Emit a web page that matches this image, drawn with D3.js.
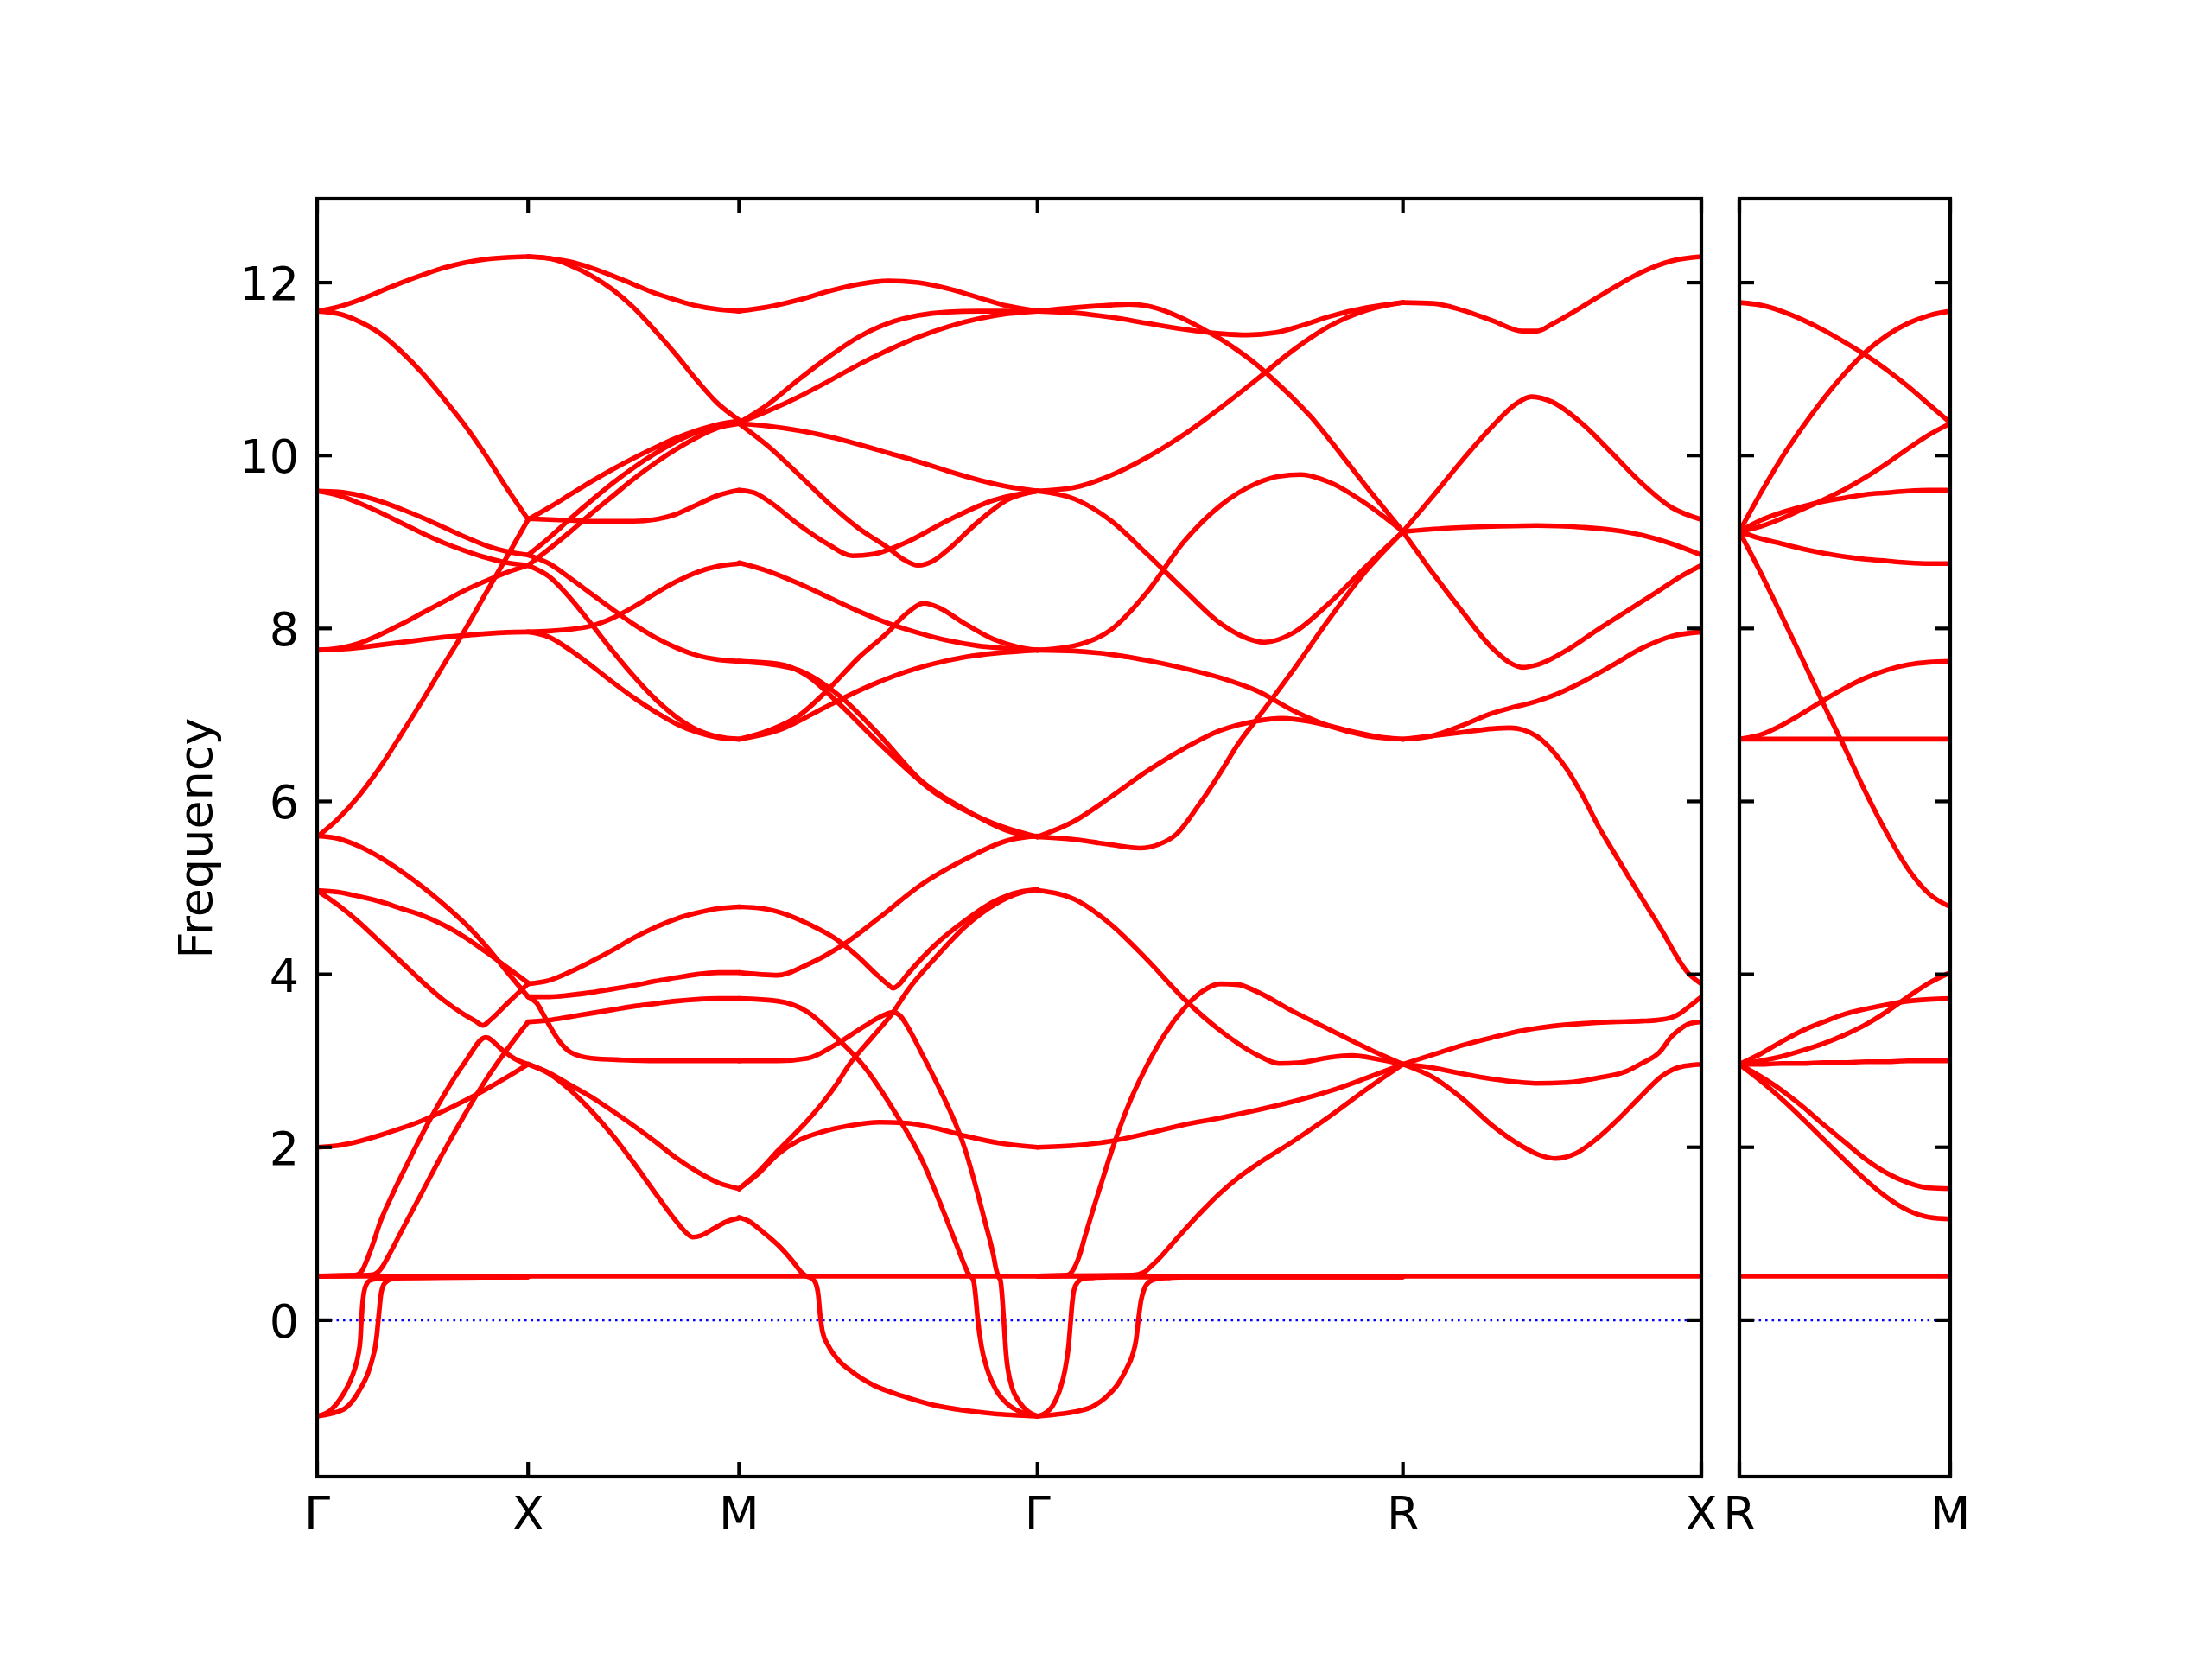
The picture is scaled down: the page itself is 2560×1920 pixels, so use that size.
<!DOCTYPE html>
<html><head><meta charset="utf-8">
<script src="https://cdn.jsdelivr.net/npm/d3@7"></script>
<style>html,body{margin:0;padding:0;background:#fff}</style>
</head><body>
<svg id="chart" width="2560" height="1920"></svg>
<script>
// ---------------- data ----------------
const kLabels1 = ["Γ","X","M","Γ","R","X"];
const segLen1 = [0.5, 0.5, 0.7071, 0.8660, 0.7071];
const kLabels2 = ["R","M"];
const segLen2 = [0.5];
const yTicks = [0, 2, 4, 6, 8, 10, 12];
const yDomain = [-1.81, 12.97];
const flatBand = 0.51;

// band values: plain arrays = evenly spaced along segment; {t,f} = explicit fractions
const bandsGX = [
  [11.67,11.72,11.80,11.90,12.00,12.09,12.17,12.23,12.27,12.29,12.30],
  [11.67,11.64,11.55,11.41,11.20,10.95,10.66,10.35,10.00,9.62,9.26],
  [5.59,5.80,6.07,6.40,6.78,7.17,7.58,7.98,8.41,8.83,9.26],
  [9.59,9.58,9.54,9.47,9.38,9.28,9.17,9.06,8.96,8.89,8.85],
  [9.59,9.54,9.45,9.34,9.22,9.10,8.99,8.90,8.82,8.76,8.73],
  [7.75,7.77,7.83,7.93,8.05,8.18,8.31,8.44,8.55,8.65,8.73],
  [7.75,7.76,7.78,7.81,7.84,7.87,7.90,7.92,7.94,7.955,7.96],
  [5.60,5.57,5.48,5.35,5.19,5.01,4.81,4.59,4.33,4.03,3.74],
  [4.97,4.95,4.90,4.84,4.76,4.68,4.57,4.43,4.26,4.08,3.90],
  {t:[0,.1,.2,.3,.4,.5,.6,.7,.75,.786,.82,.9,1], f:[4.97,4.80,4.60,4.37,4.14,3.91,3.70,3.53,3.46,3.41,3.47,3.66,3.89]},
  [2.00,2.02,2.07,2.14,2.22,2.31,2.42,2.54,2.67,2.81,2.96],
  {t:[0,.18,.2,.215,.23,.26,.3,.36,.43,.5,.6,.7,.8,.88,.94,1], f:[.51,.52,.54,.58,.66,.85,1.14,1.47,1.82,2.16,2.60,2.98,3.27,3.12,3.02,2.96]},
  {t:[0,.24,.27,.29,.31,.34,.4,.5,.6,.7,.8,.9,1], f:[.51,.52,.53,.56,.62,.75,1.03,1.49,1.95,2.38,2.78,3.13,3.45]},
  {t:[0,.06,.11,.15,.18,.195,.205,.21,.215,.222,.235,.25,.28,.35,1], f:[-1.11,-1.05,-.91,-.74,-.55,-.40,-.22,0,.18,.32,.42,.46,.48,.49,.50]},
  {t:[0,.126,.208,.24,.263,.276,.284,.29,.296,.301,.31,.325,.36,.4,1], f:[-1.11,-1.03,-.78,-.62,-.44,-.30,-.15,0,.15,.27,.38,.44,.48,.49,.50]}
];

const bandsXM = [
  [12.30,12.28,12.20,12.08,11.92,11.71,11.45,11.17,10.87,10.60,10.41],
  [12.30,12.28,12.24,12.17,12.08,11.98,11.88,11.80,11.73,11.69,11.67],
  [9.26,9.40,9.55,9.70,9.84,9.97,10.09,10.20,10.29,10.36,10.40],
  [8.85,9.05,9.27,9.48,9.68,9.86,10.02,10.16,10.27,10.35,10.38],
  [8.73,8.92,9.12,9.33,9.53,9.73,9.91,10.07,10.21,10.32,10.37],
  [9.27,9.26,9.25,9.24,9.24,9.24,9.26,9.32,9.43,9.54,9.60],
  [7.96,7.97,7.99,8.03,8.12,8.25,8.40,8.54,8.65,8.72,8.75],
  [7.96,7.90,7.75,7.57,7.38,7.20,7.04,6.90,6.80,6.74,6.72],
  [8.85,8.75,8.58,8.40,8.22,8.05,7.90,7.78,7.69,7.64,7.62],
  [8.73,8.60,8.35,8.05,7.74,7.45,7.19,6.98,6.83,6.75,6.72],
  [3.89,3.93,4.03,4.15,4.28,4.42,4.54,4.64,4.71,4.76,4.78],
  [3.74,3.74,3.76,3.79,3.83,3.87,3.92,3.96,4.00,4.02,4.02],
  {t:[0,.04,.08,.12,.16,.2,.3,.45,.6,.8,1], f:[3.74,3.67,3.50,3.33,3.19,3.10,3.03,3.01,3.00,3.00,3.00]},
  [3.45,3.47,3.51,3.55,3.59,3.63,3.66,3.69,3.71,3.72,3.72],
  [2.96,2.86,2.72,2.58,2.42,2.25,2.07,1.88,1.72,1.59,1.52],
  {t:[0,.1,.2,.3,.4,.5,.6,.7,.75,.78,.82,.88,.94,1], f:[2.96,2.85,2.66,2.42,2.14,1.82,1.48,1.15,1.01,.96,.98,1.06,1.14,1.18]}
];

const bandsMG = [
  [11.67,11.72,11.80,11.90,11.98,12.02,12.00,11.93,11.83,11.73,11.67],
  [10.38,10.60,10.88,11.14,11.37,11.53,11.62,11.66,11.67,11.67,11.67],
  [10.38,10.52,10.68,10.86,11.05,11.22,11.37,11.49,11.58,11.64,11.67],
  [10.37,10.34,10.29,10.22,10.13,10.03,9.93,9.82,9.72,9.64,9.59],
  {t:[0,.1,.2,.3,.4,.5,.55,.6,.65,.7,.8,.9,1], f:[10.37,10.10,9.78,9.45,9.16,8.93,8.80,8.73,8.78,8.91,9.23,9.49,9.59]},
  {t:[0,.05,.1,.2,.3,.38,.45,.55,.7,.85,1], f:[9.60,9.57,9.47,9.20,8.97,8.84,8.86,8.98,9.25,9.48,9.59]},
  [8.76,8.66,8.52,8.36,8.20,8.06,7.95,7.86,7.80,7.77,7.75],
  {t:[0,.1,.2,.3,.4,.5,.56,.62,.67,.75,.85,.93,1], f:[6.72,6.82,6.99,7.30,7.66,7.96,8.17,8.29,8.24,8.07,7.88,7.79,7.75]},
  {t:[0,.18,.34,.47,.61,.76,.9,1], f:[7.62,7.54,7.21,6.77,6.24,5.90,5.66,5.59]},
  {t:[0,.13,.23,.32,.47,.66,.85,1], f:[7.62,7.59,7.45,7.18,6.67,6.09,5.75,5.59]},
  {t:[0,.13,.30,.42,.56,.76,1], f:[6.72,6.82,7.11,7.31,7.50,7.67,7.75]},
  {t:[0,.08,.16,.24,.32,.4,.46,.5,.516,.535,.564,.66,.757,.853,.95,1], f:[4.78,4.76,4.69,4.57,4.42,4.20,4.00,3.88,3.84,3.88,4.00,4.35,4.62,4.84,4.96,4.98]},
  {t:[0,.13,.227,.352,.468,.612,.757,.902,1], f:[4.02,3.99,4.11,4.35,4.65,5.04,5.33,5.55,5.60]},
  {t:[0,.13,.227,.323,.42,.516,.612,.68,.73,.755,.768,.778,.786,.792,.80,.812,.83,.86,.9,.95,1], f:[3.72,3.69,3.57,3.28,2.93,2.44,1.86,1.30,.86,.64,.54,.50,.45,.30,0,-.30,-.55,-.80,-.97,-1.07,-1.11]},
  {t:[0,.13,.23,.32,.42,.48,.516,.54,.564,.61,.66,.757,.824,.853,.862,.870,.876,.881,.887,.895,.91,.94,.97,1], f:[3.00,3.00,3.03,3.18,3.40,3.52,3.56,3.52,3.40,3.10,2.76,1.98,1.14,.74,.58,.50,.46,.30,0,-.40,-.72,-.95,-1.06,-1.11]},
  {t:[0,.063,.13,.227,.323,.37,.448,.516,.564,.66,.757,.853,.95,1], f:[1.52,1.71,1.96,2.30,2.71,2.96,3.28,3.56,3.81,4.20,4.55,4.80,4.95,4.98]},
  {t:[0,.06,.13,.2,.28,.37,.47,.56,.66,.76,.87,1], f:[1.52,1.68,1.92,2.08,2.18,2.25,2.29,2.28,2.22,2.13,2.05,2.0]},
  {t:[0,.03,.08,.13,.18,.21,.225,.24,.255,.265,.272,.28,.3,.33,.38,.45,.55,.65,.75,.85,1], f:[1.19,1.15,1.02,.87,.68,.55,.51,.49,.44,.30,.05,-.14,-.30,-.45,-.60,-.75,-.88,-.98,-1.04,-1.08,-1.11]}
];

const bandsGR = [
  {t:[0,.1,.2,.25,.3,.35,.4,.45,.5,.55,.6,.65,.7,.75,.8,.85,.9,.95,1], f:[11.67,11.71,11.74,11.75,11.73,11.67,11.58,11.47,11.35,11.21,11.05,10.86,10.66,10.44,10.18,9.91,9.64,9.38,9.12]},
  {t:[0,.1,.2,.3,.4,.5,.575,.65,.72,.8,.9,1], f:[11.67,11.65,11.60,11.53,11.46,11.41,11.395,11.42,11.50,11.61,11.71,11.77]},
  [9.59,9.63,9.77,9.98,10.24,10.55,10.88,11.22,11.50,11.68,11.77],
  {t:[0,.1,.2,.3,.4,.5,.56,.62,.7,.8,.9,1], f:[9.59,9.50,9.25,8.86,8.45,8.06,7.91,7.84,7.95,8.30,8.72,9.12]},
  {t:[0,.1,.2,.3,.4,.5,.6,.66,.72,.8,.9,1], f:[7.75,7.80,7.98,8.42,9.00,9.42,9.68,9.76,9.78,9.69,9.44,9.12]},
  [7.75,7.74,7.70,7.63,7.54,7.43,7.28,7.05,6.87,6.76,6.72],
  {t:[0,.1,.2,.28,.33,.38,.44,.5,.55,.6,.7,.8,.9,1], f:[5.59,5.56,5.50,5.46,5.50,5.62,5.95,6.33,6.67,6.95,7.52,8.12,8.67,9.12]},
  {t:[0,.1,.2,.3,.4,.5,.6,.67,.75,.85,.93,1], f:[5.59,5.77,6.05,6.35,6.61,6.82,6.93,6.96,6.92,6.82,6.75,6.72]},
  {t:[0,.1,.2,.3,.4,.5,.6,.66,.72,.8,.86,.93,1], f:[4.97,4.87,4.58,4.17,3.72,3.35,3.07,2.97,2.98,3.04,3.06,3.02,2.96]},
  [2.0,2.02,2.07,2.16,2.26,2.34,2.43,2.53,2.65,2.80,2.96],
  {t:[0,.08,.09,.1,.115,.13,.15,.17,.2,.25,.3,.35,.4,.45,.5,.55,.6,.7,.8,.9,1], f:[.51,.52,.54,.60,.75,.97,1.25,1.52,1.92,2.50,2.95,3.32,3.60,3.80,3.89,3.88,3.80,3.57,3.36,3.15,2.96]},
  {t:[0,.26,.29,.31,.33,.37,.41,.45,.5,.55,.6,.7,.8,.9,1], f:[.51,.52,.55,.62,.70,.89,1.08,1.26,1.47,1.65,1.80,2.07,2.36,2.67,2.96]},
  {t:[0,.02,.04,.06,.075,.085,.09,.095,.1,.11,.125,.15,.2,1], f:[-1.11,-1.08,-1.0,-.82,-.58,-.3,-.05,.2,.35,.44,.48,.49,.50,.50]},
  {t:[0,.05,.1,.15,.19,.22,.245,.26,.27,.276,.283,.292,.305,.33,.36,.4,1], f:[-1.11,-1.09,-1.06,-1.0,-.88,-.74,-.55,-.40,-.22,0,.22,.36,.44,.48,.49,.50,.50]}
];

const bandsRX = [
  {t:[0,.1,.2,.3,.4,.45,.5,.6,.7,.8,.9,1], f:[11.77,11.76,11.68,11.56,11.44,11.44,11.52,11.72,11.93,12.12,12.25,12.30]},
  {t:[0,.1,.2,.3,.38,.43,.5,.6,.7,.8,.9,1], f:[9.12,9.53,9.95,10.34,10.60,10.68,10.62,10.37,10.03,9.68,9.40,9.26]},
  {t:[0,.15,.3,.45,.6,.7,.8,.9,1], f:[9.12,9.16,9.18,9.19,9.17,9.14,9.08,8.98,8.85]},
  {t:[0,.1,.2,.3,.36,.4,.45,.55,.65,.75,.85,.93,1], f:[9.12,8.64,8.19,7.77,7.60,7.55,7.58,7.75,7.98,8.20,8.42,8.60,8.73]},
  {t:[0,.1,.2,.3,.36,.42,.5,.6,.7,.8,.9,1], f:[6.72,6.76,6.88,7.02,7.08,7.13,7.22,7.38,7.57,7.77,7.91,7.96]},
  {t:[0,.1,.2,.3,.36,.4,.45,.5,.55,.6,.657,.7,.763,.86,.957,1], f:[6.72,6.76,6.80,6.84,6.85,6.83,6.75,6.59,6.37,6.08,5.70,5.45,5.09,4.55,4.01,3.89]},
  {t:[0,.1,.2,.3,.4,.5,.6,.7,.8,.85,.9,.93,.96,1], f:[2.96,3.07,3.18,3.27,3.35,3.40,3.43,3.45,3.46,3.47,3.50,3.55,3.63,3.74]},
  {t:[0,.1,.2,.3,.4,.45,.55,.65,.75,.8,.86,.9,.93,.96,1], f:[2.96,2.92,2.85,2.79,2.75,2.74,2.75,2.80,2.88,2.97,3.10,3.28,3.37,3.43,3.45]},
  {t:[0,.1,.2,.3,.4,.45,.51,.58,.65,.72,.8,.87,.93,1], f:[2.96,2.81,2.56,2.25,2.01,1.92,1.87,1.93,2.10,2.32,2.60,2.83,2.93,2.96]}
];

const bandsRM = [
  [11.77,11.74,11.67,11.57,11.45,11.31,11.16,10.99,10.80,10.59,10.38],
  [9.12,9.56,9.97,10.33,10.66,10.95,11.20,11.39,11.53,11.62,11.67],
  [9.12,9.18,9.27,9.38,9.49,9.61,9.75,9.91,10.08,10.24,10.37],
  [9.12,9.25,9.34,9.41,9.47,9.51,9.55,9.57,9.59,9.60,9.60],
  [9.12,9.04,8.98,8.92,8.87,8.83,8.80,8.78,8.76,8.75,8.75],
  [9.12,8.65,8.15,7.64,7.12,6.62,6.10,5.63,5.22,4.93,4.78],
  [6.72,6.72,6.72,6.72,6.72,6.72,6.72,6.72,6.72,6.72,6.72],
  [6.72,6.77,6.88,7.02,7.17,7.31,7.43,7.52,7.58,7.61,7.62],
  [2.96,3.08,3.22,3.35,3.45,3.54,3.60,3.65,3.69,3.71,3.72],
  [2.96,3.00,3.05,3.12,3.20,3.30,3.42,3.57,3.74,3.90,4.02],
  [2.96,2.96,2.97,2.97,2.98,2.98,2.99,2.99,3.00,3.00,3.00],
  [2.96,2.82,2.66,2.47,2.26,2.06,1.86,1.70,1.59,1.53,1.52],
  [2.96,2.77,2.56,2.33,2.09,1.85,1.62,1.42,1.27,1.19,1.17]
];

// ---------------- drawing ----------------
const svg = d3.select("#chart");
svg.append("rect").attr("width",2560).attr("height",1920).attr("fill","#fff");

const plotTop = 230, plotBottom = 1709;
const yScale = d3.scaleLinear().domain(yDomain).range([plotBottom, plotTop]);
const RED = "#ff0000";
const FONT = "'DejaVu Sans', sans-serif";
const FS = 54;
const TICK = 17;
const LW = 5.6;

function toPts(band){
  if (Array.isArray(band)) return band.map((f,i)=>[i/(band.length-1), f]);
  return band.t.map((t,i)=>[t, band.f[i]]);
}

function drawPanel(id, x0, x1, segLens, segBands, labels, showYLabels){
  const total = d3.sum(segLens);
  const x = d3.scaleLinear().domain([0,total]).range([x0,x1]);
  const kpos = [0]; segLens.forEach(L=>kpos.push(kpos[kpos.length-1]+L));

  svg.append("clipPath").attr("id","clip"+id)
    .append("rect").attr("x",x0).attr("y",plotTop).attr("width",x1-x0).attr("height",plotBottom-plotTop);
  const g = svg.append("g").attr("clip-path","url(#clip"+id+")");

  const line = d3.line().x(d=>x(d[0])).y(d=>yScale(d[1])).curve(d3.curveMonotoneX);

  g.append("line").attr("x1",x0).attr("x2",x1).attr("y1",yScale(0)).attr("y2",yScale(0))
    .attr("stroke","#0000ff").attr("stroke-width",2.6).attr("stroke-dasharray","2.6,4.9");

  g.append("path").datum(kpos.map(k=>[k,flatBand])).attr("d",line)
    .attr("fill","none").attr("stroke",RED).attr("stroke-width",LW);

  segBands.forEach((bands,s)=>{
    const k0 = kpos[s], L = segLens[s];
    bands.forEach(b=>{
      const pts = toPts(b).map(([t,f])=>[k0+t*L, f]);
      g.append("path").datum(pts).attr("d",line)
        .attr("fill","none").attr("stroke",RED).attr("stroke-width",LW)
        .attr("stroke-linejoin","round").attr("stroke-linecap","round");
    });
  });

  const fr = svg.append("g").attr("stroke","#000").attr("stroke-width",4.2).attr("fill","none");
  fr.append("rect").attr("x",x0).attr("y",plotTop).attr("width",x1-x0).attr("height",plotBottom-plotTop);

  yTicks.forEach(v=>{
    const yy = yScale(v);
    fr.append("line").attr("x1",x0).attr("x2",x0+TICK).attr("y1",yy).attr("y2",yy);
    fr.append("line").attr("x1",x1).attr("x2",x1-TICK).attr("y1",yy).attr("y2",yy);
    if (showYLabels){
      svg.append("text").attr("x",x0-21).attr("y",yy+20).attr("text-anchor","end")
        .attr("font-family",FONT).attr("font-size",FS).attr("fill","#000").text(v);
    }
  });
  kpos.forEach((k,i)=>{
    const xx = x(k);
    fr.append("line").attr("x1",xx).attr("x2",xx).attr("y1",plotTop).attr("y2",plotTop+TICK);
    fr.append("line").attr("x1",xx).attr("x2",xx).attr("y1",plotBottom).attr("y2",plotBottom-TICK);
    svg.append("text").attr("x",xx).attr("y",1770).attr("text-anchor","middle")
      .attr("font-family",FONT).attr("font-size",FS).attr("fill","#000").text(labels[i]);
  });
}

drawPanel(1, 367, 1969, segLen1, [bandsGX, bandsXM, bandsMG, bandsGR, bandsRX], kLabels1, true);
drawPanel(2, 2013, 2257, segLen2, [bandsRM], kLabels2, false);

svg.append("text").attr("transform","translate(245,970) rotate(-90)")
  .attr("text-anchor","middle").attr("font-family",FONT).attr("font-size",FS)
  .attr("fill","#000").text("Frequency");
</script>
</body></html>
